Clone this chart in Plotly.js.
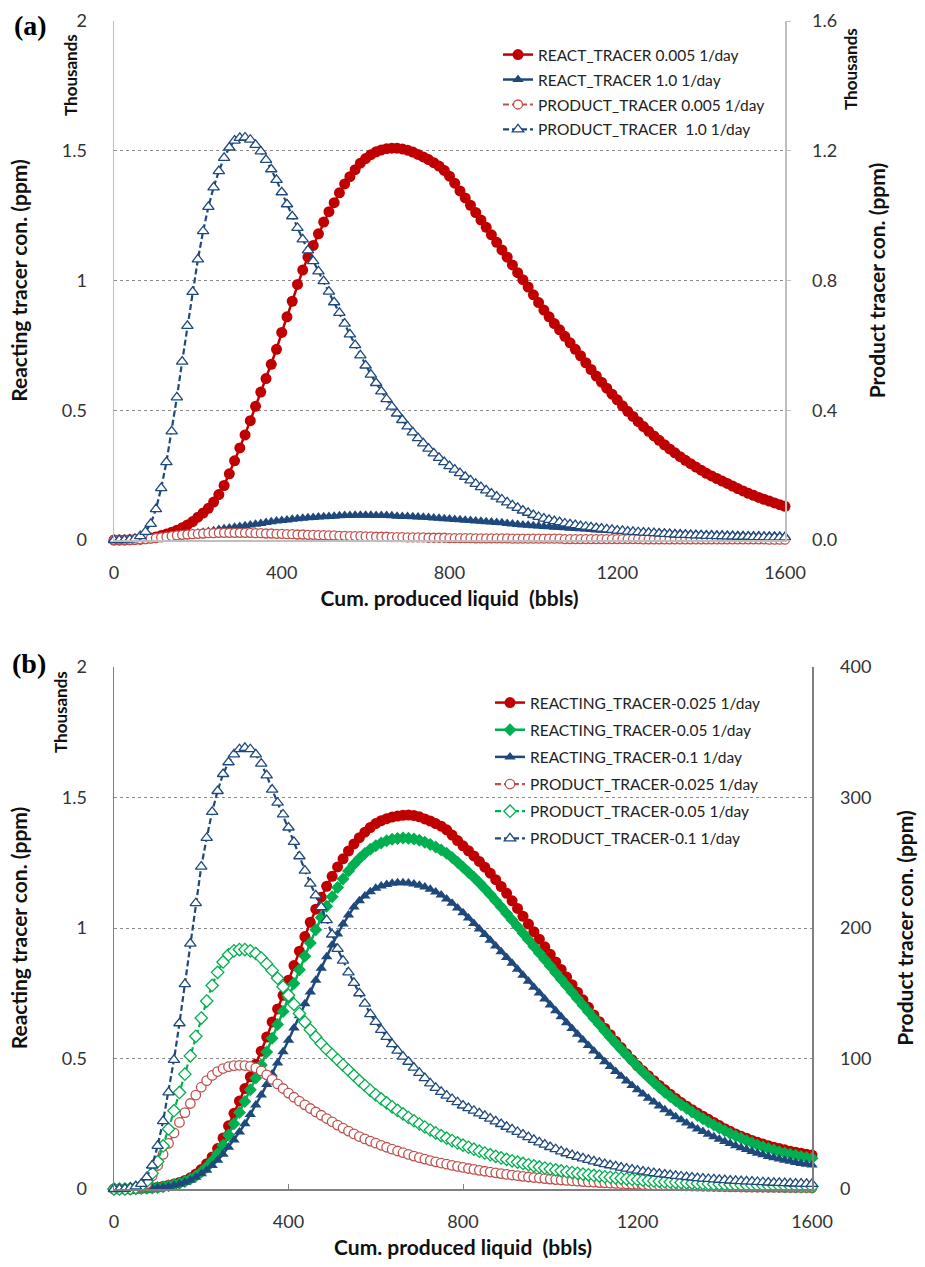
<!DOCTYPE html>
<html><head><meta charset="utf-8">
<script src="https://cdn.plot.ly/plotly-3.0.1.min.js"></script>
<style>html,body{margin:0;padding:0;background:#fff}#chart{width:925px;height:1267px}</style>
</head><body><div id="chart"></div>
<script>
// cumulative produced liquid grid (bbls): 0, 12.5, 25, ... 1600
const X_START = 0, X_STEP = 12.5;
const X_TICKS = [0, 400, 800, 1200, 1600];

// ---------- Panel (a) ----------
// reacting tracer (thousands ppm, left axis)
const reactA_0005 = [
0,0,0,0.001,0.002,0.003,0.005,0.008,
0.012,0.017,0.023,0.030,0.038,0.047,0.058,0.071,
0.088,0.104,0.122,0.146,0.175,0.21,0.255,0.305,
0.355,0.405,0.46,0.515,0.57,0.622,0.677,0.735,
0.80,0.86,0.92,0.985,1.04,1.09,1.135,1.18,
1.225,1.265,1.30,1.338,1.372,1.40,1.427,1.452,
1.47,1.485,1.496,1.503,1.508,1.51,1.51,1.507,
1.502,1.495,1.486,1.476,1.466,1.454,1.441,1.424,
1.402,1.375,1.345,1.318,1.29,1.262,1.233,1.205,
1.176,1.147,1.118,1.09,1.06,1.03,1.003,0.975,
0.945,0.915,0.886,0.86,0.834,0.81,0.785,0.76,
0.735,0.71,0.683,0.657,0.632,0.608,0.585,0.562,
0.54,0.517,0.496,0.476,0.456,0.437,0.419,0.401,
0.384,0.367,0.351,0.336,0.321,0.307,0.294,0.281,
0.269,0.257,0.247,0.237,0.227,0.218,0.208,0.198,
0.189,0.18,0.172,0.164,0.157,0.15,0.143,0.136,
0.13];
const reactA_10 = [
0,0,0.001,0.001,0.002,0.003,0.004,0.005,
0.006,0.008,0.010,0.012,0.015,0.018,0.021,0.024,
0.027,0.030,0.033,0.036,0.040,0.043,0.046,0.049,
0.052,0.055,0.058,0.061,0.064,0.067,0.070,0.073,
0.075,0.077,0.080,0.082,0.084,0.086,0.087,0.089,
0.090,0.091,0.092,0.093,0.094,0.094,0.095,0.095,
0.095,0.095,0.094,0.094,0.094,0.093,0.092,0.091,
0.091,0.090,0.089,0.088,0.087,0.085,0.084,0.082,
0.081,0.079,0.078,0.076,0.075,0.073,0.072,0.070,
0.069,0.067,0.066,0.064,0.062,0.060,0.058,0.057,
0.055,0.054,0.052,0.051,0.049,0.048,0.047,0.045,
0.044,0.043,0.042,0.040,0.039,0.038,0.037,0.036,
0.035,0.034,0.033,0.032,0.031,0.030,0.029,0.028,
0.028,0.027,0.026,0.025,0.025,0.024,0.023,0.023,
0.022,0.021,0.021,0.020,0.020,0.019,0.019,0.018,
0.018,0.017,0.017,0.017,0.016,0.016,0.016,0.015,
0.015];
// product tracer (thousands ppm, right axis)
const prodA_0005 = [
0,0,0,0,0.001,0.002,0.003,0.004,
0.006,0.008,0.010,0.012,0.014,0.016,0.017,0.018,
0.019,0.020,0.021,0.021,0.022,0.022,0.022,0.022,
0.022,0.022,0.022,0.021,0.021,0.020,0.020,0.019,
0.019,0.018,0.018,0.017,0.017,0.016,0.016,0.015,
0.015,0.014,0.014,0.013,0.013,0.012,0.012,0.012,
0.011,0.011,0.010,0.010,0.010,0.009,0.009,0.009,
0.008,0.008,0.008,0.008,0.007,0.007,0.007,0.007,
0.006,0.006,0.006,0.006,0.006,0.005,0.005,0.005,
0.005,0.005,0.005,0.005,0.004,0.004,0.004,0.004,
0.004,0.004,0.004,0.004,0.004,0.004,0.003,0.003,
0.003,0.003,0.003,0.003,0.003,0.003,0.003,0.003,
0.003,0.003,0.003,0.003,0.003,0.002,0.002,0.002,
0.002,0.002,0.002,0.002,0.002,0.002,0.002,0.002,
0.002,0.002,0.002,0.002,0.002,0.002,0.002,0.002,
0.002,0.002,0.002,0.002,0.002,0.001,0.001,0.001,
0.001];
const prodA_10 = [
0,0,0,0.001,0.004,0.012,0.025,0.05,
0.095,0.16,0.24,0.335,0.44,0.55,0.66,0.765,
0.865,0.952,1.027,1.087,1.137,1.178,1.21,1.231,
1.24,1.241,1.234,1.218,1.198,1.172,1.143,1.11,
1.072,1.035,0.998,0.962,0.927,0.893,0.86,0.828,
0.798,0.766,0.733,0.70,0.667,0.634,0.601,0.569,
0.538,0.51,0.484,0.458,0.434,0.411,0.39,0.37,
0.35,0.332,0.314,0.298,0.282,0.267,0.253,0.24,
0.228,0.217,0.206,0.195,0.184,0.173,0.163,0.153,
0.143,0.134,0.125,0.116,0.107,0.099,0.091,0.084,
0.077,0.071,0.066,0.062,0.058,0.055,0.051,0.048,
0.046,0.043,0.041,0.039,0.037,0.035,0.033,0.031,
0.029,0.028,0.026,0.025,0.024,0.023,0.022,0.021,
0.02,0.019,0.018,0.017,0.016,0.016,0.015,0.014,
0.014,0.013,0.013,0.012,0.012,0.011,0.011,0.01,
0.01,0.01,0.009,0.009,0.009,0.008,0.008,0.008,
0.008];

// ---------- Panel (b) ----------
// reacting tracer (thousands ppm, left axis)
const reactB_0025 = [
0,0,0,0,0.001,0.002,0.003,0.005,
0.007,0.01,0.014,0.019,0.025,0.033,0.043,0.057,
0.075,0.097,0.123,0.155,0.195,0.242,0.29,0.337,
0.385,0.43,0.478,0.528,0.582,0.64,0.69,0.742,
0.8,0.856,0.911,0.967,1.022,1.072,1.118,1.16,
1.198,1.234,1.265,1.295,1.322,1.346,1.367,1.385,
1.4,1.411,1.419,1.425,1.429,1.432,1.433,1.431,
1.426,1.418,1.41,1.4,1.39,1.376,1.356,1.335,
1.315,1.296,1.276,1.255,1.233,1.21,1.185,1.159,
1.133,1.104,1.075,1.045,1.015,0.986,0.957,0.928,
0.899,0.87,0.841,0.812,0.783,0.754,0.725,0.696,
0.667,0.641,0.616,0.591,0.566,0.542,0.518,0.495,
0.472,0.453,0.434,0.415,0.397,0.38,0.363,0.347,
0.331,0.317,0.304,0.291,0.279,0.267,0.255,0.243,
0.231,0.221,0.211,0.202,0.194,0.186,0.179,0.172,
0.166,0.16,0.155,0.15,0.145,0.141,0.137,0.133,
0.13];
const reactB_005 = [
0,0,0,0,0.001,0.002,0.003,0.004,
0.006,0.009,0.012,0.017,0.022,0.029,0.038,0.05,
0.065,0.084,0.107,0.135,0.168,0.207,0.25,0.293,
0.335,0.38,0.425,0.475,0.525,0.578,0.63,0.68,
0.733,0.787,0.84,0.892,0.943,0.993,1.04,1.083,
1.12,1.155,1.188,1.218,1.244,1.266,1.285,1.302,
1.315,1.326,1.334,1.34,1.343,1.345,1.344,1.341,
1.336,1.329,1.32,1.31,1.299,1.286,1.27,1.252,
1.233,1.214,1.194,1.173,1.151,1.128,1.104,1.08,
1.056,1.031,1.006,0.98,0.955,0.929,0.904,0.879,
0.854,0.829,0.804,0.779,0.754,0.729,0.704,0.679,
0.654,0.63,0.605,0.581,0.558,0.535,0.513,0.491,
0.469,0.448,0.428,0.408,0.389,0.371,0.354,0.338,
0.323,0.309,0.295,0.282,0.269,0.257,0.245,0.234,
0.223,0.213,0.203,0.194,0.185,0.177,0.169,0.162,
0.155,0.149,0.143,0.138,0.133,0.129,0.125,0.121,
0.118];
const reactB_01 = [
0,0,0,0,0.001,0.001,0.002,0.003,
0.005,0.007,0.01,0.014,0.019,0.026,0.034,0.045,
0.058,0.072,0.09,0.11,0.133,0.16,0.188,0.218,
0.25,0.285,0.322,0.36,0.4,0.441,0.483,0.526,
0.57,0.617,0.664,0.71,0.755,0.8,0.846,0.89,
0.935,0.977,1.015,1.05,1.08,1.104,1.123,1.139,
1.152,1.161,1.167,1.171,1.173,1.173,1.172,1.169,
1.164,1.157,1.148,1.138,1.126,1.111,1.095,1.077,
1.058,1.038,1.017,0.996,0.975,0.953,0.931,0.909,
0.887,0.865,0.842,0.819,0.796,0.773,0.751,0.728,
0.705,0.683,0.66,0.637,0.615,0.593,0.571,0.55,
0.529,0.508,0.488,0.469,0.45,0.432,0.414,0.397,
0.38,0.364,0.348,0.333,0.318,0.304,0.29,0.277,
0.265,0.253,0.241,0.23,0.22,0.21,0.2,0.191,
0.182,0.174,0.166,0.158,0.151,0.144,0.137,0.131,
0.125,0.12,0.115,0.11,0.106,0.102,0.098,0.095,
0.092];
// product tracer (ppm, right axis)
const prodB_0025 = [
0,0,0,0.2,0.6,1.5,4,10,
18,26.5,35,43,51,58.5,65.5,72,
78,83,87,90,92.3,93.7,94.5,94.8,
94.6,94,92.8,90.5,87.5,84,80.5,77,
73.5,70.3,67.3,64.5,61.7,59,56.5,54,
51.5,49,46.7,44.4,42.2,40.2,38.4,36.7,
35.1,33.5,32,30.5,29.1,27.8,26.5,25.2,
24,22.9,21.8,20.8,19.9,19,18.1,17.3,
16.5,15.7,15,14.3,13.6,13,12.4,11.8,
11.2,10.7,10.2,9.7,9.2,8.8,8.4,8,
7.6,7.2,6.9,6.6,6.3,6,5.7,5.4,
5.2,4.9,4.7,4.5,4.3,4.1,3.9,3.7,
3.5,3.4,3.2,3.1,2.9,2.8,2.7,2.6,
2.5,2.4,2.3,2.2,2.1,2,1.9,1.8,
1.7,1.65,1.6,1.5,1.45,1.4,1.35,1.3,
1.25,1.2,1.15,1.1,1.05,1,0.97,0.94,
0.9];
const prodB_005 = [
0,0,0,0.3,1,2.5,6,12,
21,33,46,60,74,88,102,117,
131,144,156,166,174,179.5,182.5,183.5,
183.5,182.5,180.5,177,172.5,167.5,161.5,155,
148.5,141.5,134.5,128,122,116.5,111.5,107,
103,99,95,91,87,83,79.3,75.6,
72.2,69,66,63,60.2,57.5,54.8,52.3,
49.8,47.5,45.2,43,40.9,39,37.1,35.3,
33.6,32,30.5,29,27.6,26.3,25,23.8,
22.7,21.6,20.6,19.6,18.6,17.7,16.9,16.1,
15.3,14.6,13.9,13.2,12.6,12,11.4,10.9,
10.4,9.9,9.4,9,8.6,8.2,7.8,7.5,
7.1,6.8,6.5,6.2,5.9,5.6,5.4,5.1,
4.9,4.7,4.5,4.3,4.1,3.9,3.7,3.6,
3.4,3.3,3.1,3,2.9,2.8,2.7,2.6,
2.5,2.4,2.3,2.2,2.1,2,1.95,1.9,
1.8];
const prodB_01 = [
0,0,0.2,0.8,2,4,9,18,
33,52,74,99,127,157,188,219,
247,269,289,305,318,327,333,337,
338,337,333,326,317,306,296,287,
277,266,255,244,234,225,216,206,
195,184,175,166,158,150,142,134,
128,122,116.5,111,106,101.5,97.5,93,
89,85,81,77.5,74.5,71.5,69,66.5,
64,62,60,58,56,54,51.8,49.8,
47.7,45.7,43.7,41.7,39.7,37.7,35.8,34,
32.2,30.5,28.9,27.4,26,24.7,23.5,22.3,
21.2,20.1,19.1,18.2,17.3,16.4,15.6,14.8,
14.1,13.4,12.8,12.2,11.6,11.1,10.6,10.1,
9.6,9.2,8.8,8.4,8,7.7,7.4,7.1,
6.8,6.5,6.3,6,5.8,5.6,5.4,5.2,
5,4.8,4.7,4.5,4.4,4.2,4.1,4,
3.9];

const W = 925, H = 1267;
const fx = p => p / W;
const fy = p => 1 - p / H;

const RED = '#c00000', RED2 = '#c0504d', BLUE = '#1f497d', GREEN = '#00b050';
const FONT = 'Lato, "Open Sans", sans-serif';

function mk(name, y, xa, ya, color, symbol, open, dashed, legend, msize) {
  return {
    type: 'scatter', mode: 'lines+markers', name: name, y: y,
    x0: X_START, dx: X_STEP, xaxis: xa, yaxis: ya,
    legend: legend, legendgroup: name, cliponaxis: false,
    line: {color: color, width: dashed ? 2.2 : 2.5, dash: dashed ? '6px,3px' : 'solid'},
    marker: {symbol: symbol, size: msize, color: open ? '#ffffff' : color,
             line: {color: color, width: open ? 1.3 : 0}}
  };
}

const data = [
  mk('REACT_TRACER 0.005 1/day', reactA_0005, 'x', 'y', RED, 'circle', false, false, 'legend', 11),
  mk('REACT_TRACER 1.0 1/day', reactA_10, 'x', 'y', BLUE, 'triangle-up', false, false, 'legend', 10),
  mk('PRODUCT_TRACER 0.005 1/day', prodA_0005, 'x', 'y2', RED2, 'circle', true, true, 'legend', 9),
  mk('PRODUCT_TRACER\u00a0 1.0 1/day', prodA_10, 'x', 'y2', BLUE, 'triangle-up', true, true, 'legend', 10),
  mk('REACTING_TRACER-0.025 1/day', reactB_0025, 'x2', 'y3', RED, 'circle', false, false, 'legend2', 11),
  mk('REACTING_TRACER-0.05 1/day', reactB_005, 'x2', 'y3', GREEN, 'diamond', false, false, 'legend2', 10),
  mk('REACTING_TRACER-0.1 1/day', reactB_01, 'x2', 'y3', BLUE, 'triangle-up', false, false, 'legend2', 10),
  mk('PRODUCT_TRACER-0.025 1/day', prodB_0025, 'x2', 'y4', RED2, 'circle', true, true, 'legend2', 9.5),
  mk('PRODUCT_TRACER-0.05 1/day', prodB_005, 'x2', 'y4', GREEN, 'diamond', true, true, 'legend2', 9.5),
  mk('PRODUCT_TRACER-0.1 1/day', prodB_01, 'x2', 'y4', BLUE, 'triangle-up', true, true, 'legend2', 10)
];

const tickFont = {family: FONT, size: 18, color: '#333'};
const titleFont = {family: FONT, size: 21, color: '#111', weight: 'bold'};
const gridStyle = {showgrid: true, gridcolor: '#8c8c8c', griddash: 'dot', gridwidth: 1};

function xAx(domain, anchor, lineColor, ticks) {
  return {domain: domain, anchor: anchor, range: [0, 1600], tickvals: X_TICKS,
    showline: true, linecolor: lineColor, linewidth: 1.5, showgrid: false, zeroline: false,
    ticks: ticks, ticklen: 5, tickcolor: lineColor, tickfont: tickFont, ticklabelstandoff: 16,
    title: {text: 'Cum. produced liquid\u00a0 (bbls)', font: titleFont, standoff: 9}};
}

const layout = {
  width: W, height: H, autosize: false,
  margin: {l: 0, r: 0, t: 0, b: 0},
  paper_bgcolor: '#fff', plot_bgcolor: '#fff',
  font: {family: FONT, color: '#222'},
  xaxis: xAx([fx(114), fx(785)], 'y', '#bfbfbf', ''),
  yaxis: Object.assign({domain: [fy(540), fy(21)], anchor: 'x', range: [0, 2], dtick: 0.5,
    showline: true, linecolor: '#bfbfbf', linewidth: 1.5, zeroline: false, ticks: '',
    tickfont: tickFont, ticklabelstandoff: 22,
    title: {text: 'Reacting tracer con. (ppm)', font: titleFont, standoff: 28}}, gridStyle),
  yaxis2: {overlaying: 'y', side: 'right', anchor: 'x', range: [0, 1.6], dtick: 0.4, tickformat: '.1f',
    showline: true, linecolor: '#bfbfbf', linewidth: 1.5, showgrid: false, zeroline: false,
    ticks: 'outside', ticklen: 4, tickcolor: '#bfbfbf', tickfont: tickFont, ticklabelstandoff: 18,
    title: {text: 'Product tracer con. (ppm)', font: titleFont, standoff: 34}},
  xaxis2: xAx([fx(114), fx(812)], 'y3', '#808080', 'inside'),
  yaxis3: Object.assign({domain: [fy(1189), fy(667)], anchor: 'x2', range: [0, 2], dtick: 0.5,
    showline: true, linecolor: '#808080', linewidth: 1.5, zeroline: false, ticks: '',
    tickfont: tickFont, ticklabelstandoff: 22,
    title: {text: 'Reacting tracer con. (ppm)', font: titleFont, standoff: 28}}, gridStyle),
  yaxis4: {overlaying: 'y3', side: 'right', anchor: 'x2', range: [0, 400], dtick: 100,
    showline: true, linecolor: '#808080', linewidth: 1.5, showgrid: false, zeroline: false,
    ticks: '', tickfont: tickFont, ticklabelstandoff: 23,
    title: {text: 'Product tracer con. (ppm)', font: titleFont, standoff: 28}},
  legend: {x: fx(498), y: fy(38), xanchor: 'left', yanchor: 'top', bgcolor: 'rgba(0,0,0,0)',
    font: {family: FONT, size: 15.5, color: '#222'}, tracegroupgap: 1.8, traceorder: 'grouped'},
  legend2: {x: fx(490), y: fy(686), xanchor: 'left', yanchor: 'top', bgcolor: 'rgba(0,0,0,0)',
    font: {family: FONT, size: 15.5, color: '#222'}, tracegroupgap: 4.0, traceorder: 'grouped'},
  annotations: [
    {text: '<b>(a)</b>', x: fx(31), y: fy(26), xref: 'paper', yref: 'paper', showarrow: false,
     xanchor: 'center', yanchor: 'middle',
     font: {family: '"Liberation Serif", "DejaVu Serif", serif', size: 28, color: '#000'}},
    {text: '<b>(b)</b>', x: fx(29), y: fy(663), xref: 'paper', yref: 'paper', showarrow: false,
     xanchor: 'center', yanchor: 'middle',
     font: {family: '"Liberation Serif", "DejaVu Serif", serif', size: 28, color: '#000'}},
    {text: '<b>Thousands</b>', textangle: -90, x: fx(70), y: fy(75), xref: 'paper', yref: 'paper',
     xanchor: 'center', yanchor: 'middle',
     showarrow: false, font: {family: FONT, size: 17, color: '#111'}},
    {text: '<b>Thousands</b>', textangle: -90, x: fx(850), y: fy(69), xref: 'paper', yref: 'paper',
     xanchor: 'center', yanchor: 'middle',
     showarrow: false, font: {family: FONT, size: 17, color: '#111'}},
    {text: '<b>Thousands</b>', textangle: -90, x: fx(61), y: fy(712), xref: 'paper', yref: 'paper',
     xanchor: 'center', yanchor: 'middle',
     showarrow: false, font: {family: FONT, size: 17, color: '#111'}}
  ]
};

Plotly.newPlot('chart', data, layout, {staticPlot: true});
</script>
</body></html>
